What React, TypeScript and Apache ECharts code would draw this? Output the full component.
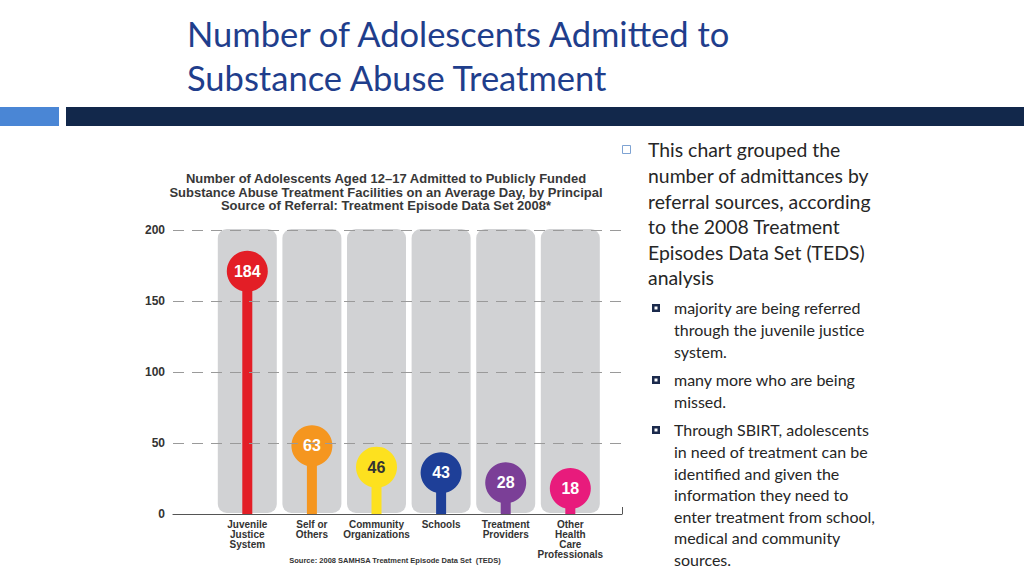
import React, { useEffect, useRef } from "react";
import * as echarts from "echarts";

const categories = [
  "Juvenile\nJustice\nSystem",
  "Self or\nOthers",
  "Community\nOrganizations",
  "Schools",
  "Treatment\nProviders",
  "Other\nHealth\nCare\nProfessionals",
];
const values = [184, 63, 46, 43, 28, 18];
// height (in axis units) at which each value bubble is drawn in the picture
const markerLevels = [171, 48, 33, 29, 22, 18];
const colors = ["#e31e26", "#f5961f", "#fde11f", "#1e3f98", "#7b3f97", "#e81b7c"];
const labelColors = ["#ffffff", "#ffffff", "#333333", "#ffffff", "#ffffff", "#ffffff"];
const yMin = 0;
const yMax = 200;
const yInterval = 50;
const gridLines = [50, 100, 150, 200];

const bodyText = [
  "This chart grouped the",
  "number of admittances by",
  "referral sources, according",
  "to the 2008 Treatment",
  "Episodes Data Set (TEDS)",
  "analysis",
];
const sub1 = ["majority are being referred", "through the juvenile justice", "system."];
const sub2 = ["many more who are being", "missed."];
const sub3 = [
  "Through SBIRT, adolescents",
  "in need of treatment can be",
  "identified and given the",
  "information they need to",
  "enter treatment from school,",
  "medical and community",
  "sources.",
];

const BODY_FONT = "Lato, 'Noto Sans', sans-serif";
const CHART_FONT = "'Liberation Sans', Arial, sans-serif";

function subBullet(y: number) {
  return [
    { type: "rect", shape: { x: 652, y: y - 4, width: 8, height: 8 }, style: { fill: "#1b2a4c" } },
    { type: "rect", shape: { x: 654.5, y: y - 1.5, width: 3, height: 3 }, style: { fill: "#ffffff" } },
  ];
}

export default function App() {
  const ref = useRef<HTMLDivElement>(null);
  useEffect(() => {
    if (!ref.current) return;
    const chart = echarts.init(ref.current, null, { renderer: "svg" });
    const idx = values.map((_, i) => i);
    chart.setOption({
      animation: false,
      backgroundColor: "#ffffff",
      title: [
        {
          text: "Number of Adolescents Aged 12–17 Admitted to Publicly Funded\nSubstance Abuse Treatment Facilities on an Average Day, by Principal\nSource of Referral: Treatment Episode Data Set 2008*",
          left: 386,
          top: 172,
          textAlign: "center",
          textStyle: { fontFamily: CHART_FONT, fontSize: 13, fontWeight: "bold", color: "#383838", lineHeight: 13.4 },
          padding: 0,
        },
        {
          text: "Source: 2008 SAMHSA Treatment Episode Data Set  (TEDS)",
          left: 395,
          top: 556,
          textAlign: "center",
          textStyle: { fontFamily: CHART_FONT, fontSize: 7.5, fontWeight: "bold", color: "#333333" },
          padding: 0,
        },
      ],
      grid: { left: 173, right: 402, top: 230, bottom: 62, containLabel: false },
      xAxis: {
        type: "value",
        min: -1.15,
        max: 5.8,
        axisLine: { show: true, lineStyle: { color: "#555555", width: 1.2 } },
        axisTick: { show: true, inside: true, length: 7, customValues: [5.8], lineStyle: { color: "#555555" } },
        splitLine: { show: false },
        axisLabel: {
          customValues: idx,
          formatter: (v: number) => categories[Math.round(v)] ?? "",
          fontFamily: CHART_FONT,
          fontSize: 10,
          fontWeight: "bold",
          color: "#333333",
          lineHeight: 9.8,
          margin: 6,
        },
      },
      yAxis: {
        type: "value",
        min: yMin,
        max: yMax,
        interval: yInterval,
        axisLine: { show: true, lineStyle: { color: "#555555", width: 1.2 } },
        axisTick: { show: false },
        splitLine: { show: false },
        axisLabel: {
          fontFamily: CHART_FONT,
          fontSize: 12,
          fontWeight: "bold",
          color: "#333333",
          margin: 8,
        },
      },
      series: [
        {
          type: "custom",
          z: 1,
          silent: true,
          data: idx.map((i) => [i, yMax]),
          renderItem: (_p: any, api: any) => {
            const x = api.value(0);
            const top = api.coord([x, api.value(1)]);
            const bot = api.coord([x, 0]);
            const w = 59;
            return {
              type: "rect",
              shape: { x: top[0] - w / 2, y: top[1] - 1, width: w, height: bot[1] - top[1], r: 9 },
              style: { fill: "#d1d2d4" },
            };
          },
        },
        {
          type: "line",
          z: 2,
          data: [],
          silent: true,
          markLine: {
            silent: true,
            symbol: "none",
            label: { show: false },
            lineStyle: { color: "#9a9a9a", type: [11, 8], width: 1 },
            data: gridLines.map((g) => ({ yAxis: g })),
          },
        },
        {
          type: "custom",
          z: 3,
          silent: true,
          data: idx.map((i) => [i, markerLevels[i]]),
          renderItem: (p: any, api: any) => {
            const x = api.value(0);
            const top = api.coord([x, api.value(1)]);
            const bot = api.coord([x, 0]);
            const w = 10;
            return {
              type: "rect",
              shape: { x: top[0] - w / 2, y: top[1], width: w, height: bot[1] - top[1] },
              style: { fill: colors[p.dataIndex] },
            };
          },
        },
        {
          type: "scatter",
          z: 4,
          symbol: "circle",
          symbolSize: 41,
          silent: true,
          data: idx.map((i) => ({
            value: [i, markerLevels[i], values[i]],
            itemStyle: { color: colors[i], opacity: 1 },
            label: { color: labelColors[i] },
          })),
          label: {
            show: true,
            position: "inside",
            formatter: (p: any) => String(p.value[2]),
            fontFamily: CHART_FONT,
            fontSize: 16,
            fontWeight: "bold",
          },
        },
      ],
      graphic: [
        { type: "rect", shape: { x: 0, y: 107, width: 59, height: 19 }, style: { fill: "#4a86d5" } },
        { type: "rect", shape: { x: 66, y: 107, width: 958, height: 19 }, style: { fill: "#12284b" } },
        {
          type: "text",
          x: 187,
          y: 33,
          style: {
            text: "Number of Adolescents Admitted to",
            font: `34.5px ${BODY_FONT}`,
            fill: "#1f3e8c",
            verticalAlign: "middle",
          },
        },
        {
          type: "text",
          x: 187,
          y: 77,
          style: {
            text: "Substance Abuse Treatment",
            font: `34.5px ${BODY_FONT}`,
            fill: "#1f3e8c",
            verticalAlign: "middle",
          },
        },
        {
          type: "rect",
          shape: { x: 622.5, y: 145.5, width: 8, height: 8 },
          style: { fill: "none", stroke: "#7ea3d3", lineWidth: 1 },
        },
        {
          type: "text",
          x: 648,
          y: 137,
          style: { text: bodyText.join("\n"), font: `19.4px ${BODY_FONT}`, fill: "#262626", lineHeight: 25.6, verticalAlign: "top" },
        },
        ...subBullet(308),
        {
          type: "text",
          x: 674,
          y: 297,
          style: { text: sub1.join("\n"), font: `16px ${BODY_FONT}`, fill: "#262626", lineHeight: 21.7, verticalAlign: "top" },
        },
        ...subBullet(380),
        {
          type: "text",
          x: 674,
          y: 369,
          style: { text: sub2.join("\n"), font: `16px ${BODY_FONT}`, fill: "#262626", lineHeight: 21.7, verticalAlign: "top" },
        },
        ...subBullet(430),
        {
          type: "text",
          x: 674,
          y: 419,
          style: { text: sub3.join("\n"), font: `16px ${BODY_FONT}`, fill: "#262626", lineHeight: 21.6, verticalAlign: "top" },
        },
      ],
    });
    return () => chart.dispose();
  }, []);
  return <div ref={ref} style={{ position: "fixed", left: 0, top: 0, width: 1024, height: 576 }} />;
}
